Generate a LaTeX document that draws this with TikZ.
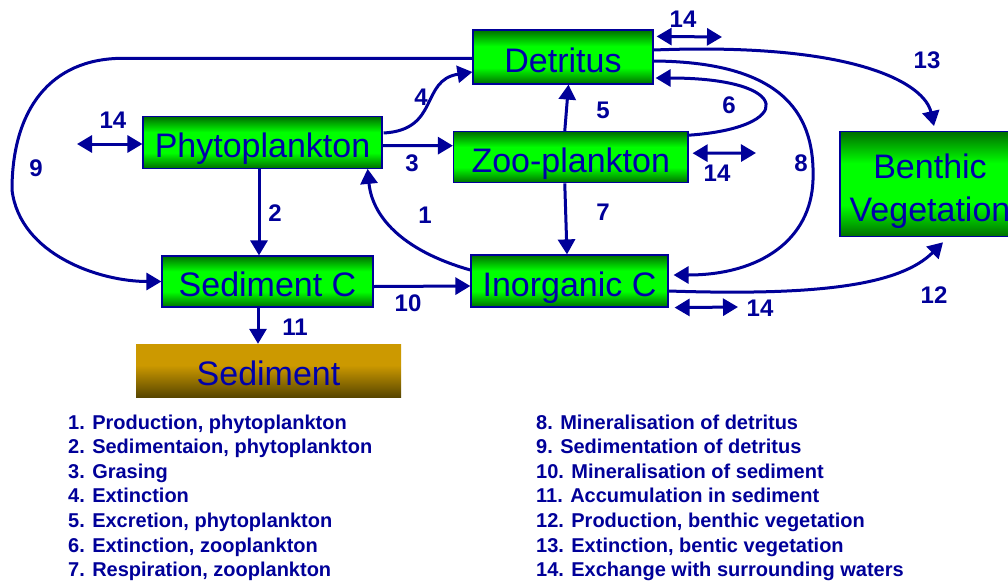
\documentclass[tikz,border=0pt]{standalone}
\usepackage{fontspec}
\setmainfont{Liberation Sans}
\usetikzlibrary{arrows.meta,calc}
\definecolor{navy}{RGB}{0,0,153}
\definecolor{boxtext}{RGB}{0,0,170}
\definecolor{dkg}{RGB}{0,110,0}
\definecolor{brg}{RGB}{0,255,0}
\definecolor{sedgold}{RGB}{204,153,0}
\definecolor{sedbrown}{RGB}{88,70,0}
\pgfdeclareverticalshading{greenshade}{100bp}{color(0bp)=(dkg); color(25bp)=(dkg); color(40bp)=(brg); color(60bp)=(brg); color(75bp)=(dkg); color(100bp)=(dkg)}
\pgfdeclareverticalshading{goldshade}{100bp}{color(0bp)=(sedbrown); color(25bp)=(sedbrown); color(55bp)=(sedgold); color(75bp)=(sedgold); color(100bp)=(sedgold)}
\tikzset{
  flow/.style={draw=navy, line width=3pt, -{Triangle[length=15pt,width=17pt]}},
  both/.style={draw=navy, line width=3pt, {Triangle[length=15pt,width=17pt]}-{Triangle[length=15pt,width=17pt]}},
  gbox/.style={draw=navy, line width=1.2pt, shading=greenshade, inner sep=0pt, text=boxtext,
    font=\fontsize{34}{40}\selectfont, text height=30pt, text depth=0pt},
  sbox/.style={shading=goldshade, inner sep=0pt, text=boxtext,
    font=\fontsize{34}{40}\selectfont, text height=30pt, text depth=0pt},
  num/.style={text=navy, font=\fontsize{24}{24}\selectfont\bfseries, inner sep=0pt},
  leg/.style={text=navy, font=\fontsize{20}{24}\selectfont\bfseries, anchor=base west, inner sep=0pt},
}
\begin{document}
\begin{tikzpicture}[x=1pt,y=-1pt]
\clip (0,0) rectangle (1008,584);
\fill[white] (0,0) rectangle (1008,584);

% boxes
\node[gbox, minimum width=180pt, minimum height=54pt] (det) at (563,57) {Detritus};
\node[gbox, minimum width=239pt, minimum height=51.5pt] (phy) at (262.5,142.5) {Phytoplankton};
\node[gbox, minimum width=234.5pt, minimum height=51pt] (zoo) at (570.75,157.2) {Zoo-plankton};
\node[gbox, minimum width=180pt, minimum height=105pt, align=center, text height=, text depth=,
  font=\fontsize{34}{43}\selectfont] (ben) at (930,184.2) {\rule{0pt}{39pt}Benthic\\Vegetation};
\node[gbox, minimum width=211pt, minimum height=51pt] (sedc) at (267.5,281.5) {Sediment C};
\node[gbox, minimum width=197pt, minimum height=52pt] (inorg) at (569.5,281) {Inorganic C};
\node[sbox, minimum width=265pt, minimum height=53pt] (sed) at (268.5,370.5) {Sediment};

% connectors
\draw[flow] ($(inorg.west)+(0,-11)$) .. controls (400,250) and (372,215) .. ($(phy.south east)+(-15,0)$);
\draw[flow] ($(phy.south)+(-3.5,0)$) -- ($(sedc.north)+(-8.5,0)$);
\draw[flow] ($(phy.east)+(0,3)$) -- ($(zoo.west)+(0,-11.5)$);
\draw[flow] ($(phy.east)+(1,-9.5)$) .. controls (440,130) and (420,80) .. ($(det.west)+(0,15)$);
\draw[flow] ($(zoo.north)+(-6,0)$) -- ($(det.south)+(5.5,0)$);
\draw[flow] ($(zoo.east)+(0,-22)$) .. controls (795,128) and (795,78) .. ($(det.east)+(2,21)$);
\draw[flow] ($(zoo.south)+(-6,0)$) -- ($(inorg.north)+(-2.5,0)$);
\draw[flow] ($(det.east)+(0,4)$) .. controls (790,62) and (815,120) .. (813,180)
  .. controls (811,240) and (760,275) .. ($(inorg.east)+(5,-6)$);
\draw[flow] ($(det.west)+(0,1.3)$) -- (123,58.3) .. controls (50,58.3) and (12,110) .. (12,190)
  .. controls (20,255) and (100,281.5) .. (sedc.west);
\draw[flow] ($(sedc.east)+(0,5)$) -- ($(inorg.west)+(0,5)$);
\draw[flow] ($(sedc.south)+(-9.5,0)$) -- ($(sed.north)+(-10.5,0)$);
\draw[flow] ($(inorg.east)+(0,10)$) .. controls (820,296) and (900,285) .. ($(ben.south)+(13,5)$);
\draw[flow] ($(det.east)+(0,-7)$) .. controls (860,42) and (925,85) .. ($(ben.north)+(4,-5)$);

% exchange arrows
\coordinate (x1) at (77,144);
\draw[both] (x1) -- ($(phy.west)+(0,1.5)$);
\coordinate (x2) at (722,37);
\draw[both] ($(det.north east)+(3,7)$) -- (x2);
\coordinate (x3) at (756,153);
\draw[both] ($(zoo.east)+(4,-4)$) -- (x3);
\coordinate (x4) at (738,307);
\draw[both] ($(inorg.south east)+(6,0)$) -- (x4);

% number labels
\node[num] (l1) at (425,215) {1};
\node[num] (l2) at (275,213) {2};
\node[num] (l3) at (412,163) {3};
\node[num] (l4) at (421,97) {4};
\node[num] (l5) at (603,110) {5};
\node[num] (l6) at (729,105) {6};
\node[num] (l7) at (603,212) {7};
\node[num] (l8) at (801,163) {8};
\node[num] (l9) at (36,168) {9};
\node[num] (l10) at (408,303) {10};
\node[num] (l11) at (295,327) {11};
\node[num] (l12) at (934,295) {12};
\node[num] (l13) at (927,60) {13};
\node[num] (l14a) at (113,120) {14};
\node[num] (l14b) at (683,19) {14};
\node[num] (l14c) at (717,173) {14};
\node[num] (l14d) at (760,308) {14};

% legend
\node[leg] (g1) at (68,429) {1. Production, phytoplankton};
\node[leg] (g2) at (68,453.6) {2. Sedimentaion, phytoplankton};
\node[leg] (g3) at (68,478.2) {3. Grasing};
\node[leg] (g4) at (68,502.8) {4. Extinction};
\node[leg] (g5) at (68,527.4) {5. Excretion, phytoplankton};
\node[leg] (g6) at (68,552) {6. Extinction, zooplankton};
\node[leg] (g7) at (68,576.6) {7. Respiration, zooplankton};
\node[leg] (g8) at (536,429) {8. Mineralisation of detritus};
\node[leg] (g9) at (536,453.6) {9. Sedimentation of detritus};
\node[leg] (g10) at (536,478.2) {10. Mineralisation of sediment};
\node[leg] (g11) at (536,502.8) {11. Accumulation in sediment};
\node[leg] (g12) at (536,527.4) {12. Production, benthic vegetation};
\node[leg] (g13) at (536,552) {13. Extinction, bentic vegetation};
\node[leg] (g14) at (536,576.6) {14. Exchange with surrounding waters};
\end{tikzpicture}
\end{document}
